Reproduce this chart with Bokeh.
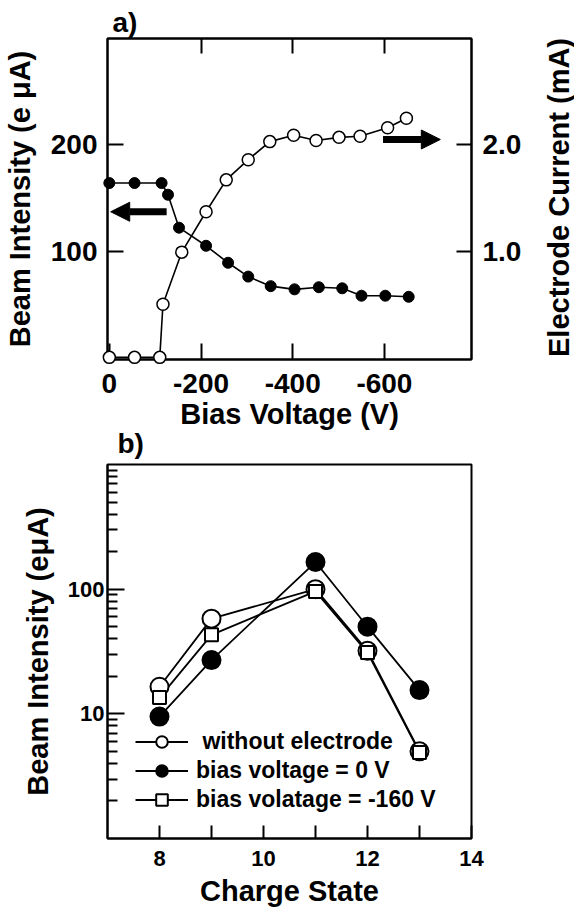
import math
from bokeh.plotting import figure
from bokeh.layouts import column
from bokeh.models import (Range1d, LinearAxis, FixedTicker, Title, Arrow, NormalHead,
                          Legend, LegendItem, PrintfTickFormatter)
from bokeh.core.properties import value
from bokeh.embed import file_html
from bokeh.resources import INLINE

# ---------------- data: panel a ----------------
beam_bias_v = [0, -55, -114, -128, -152, -211, -259, -303, -352, -404, -457, -508, -550, -602, -653]
beam_intensity = [164, 164, 164, 153, 122, 105, 89, 76, 67, 64, 66, 65, 58, 58, 57]
cur_bias_v = [0, -55, -110, -117, -158, -211, -255, -303, -350, -402, -451, -501, -547, -607, -648]
electrode_current = [0.0, 0.0, 0.0, 0.50, 0.99, 1.37, 1.67, 1.86, 2.03, 2.09, 2.04, 2.07, 2.08, 2.16, 2.25]
a_x_ticks = [0, -200, -400, -600]
a_y_ticks = [100, 200]
a_y2_ticks = [1.0, 2.0]

# ---------------- data: panel b ----------------
charge_state = [8, 9, 11, 12, 13]
without_electrode = [16.5, 58, 100, 32, 5.0]
bias_0v = [9.5, 27, 165, 50, 15.5]
bias_m160v = [13.5, 43, 96, 31, 4.9]
b_x_ticks = [8, 10, 12, 14]
b_x_minor = [9, 11, 13]
b_y_ticks = [10, 100]
b_y_minor = [m * d for d in (1, 10, 100) for m in range(2, 10)]

FONT = "Liberation Sans"

# panel a frame geometry (pixels within the figure canvas)
A_W, A_H = 574, 432
A_LEFT, A_RIGHT, A_TOP, A_BOTTOM = 107, 103, 38, 73
A_XR = (4, -790)
A_YR = (-2, 300)


def style_axis(ax, size, tick_in, standoff):
    ax.major_tick_in = tick_in
    ax.major_tick_out = 0
    ax.minor_tick_in = 0
    ax.minor_tick_out = 0
    ax.axis_line_width = 2
    ax.axis_line_color = "black"
    ax.major_tick_line_width = 2
    ax.major_tick_line_color = "black"
    ax.minor_tick_line_width = 2
    ax.minor_tick_line_color = "black"
    ax.major_label_text_font = FONT
    ax.major_label_text_font_style = "bold"
    ax.major_label_text_font_size = size
    ax.major_label_text_color = "black"
    ax.major_label_standoff = standoff


def axis_title(ax, text, standoff, size="29px"):
    ax.axis_label = text
    ax.axis_label_text_font = FONT
    ax.axis_label_text_font_style = "bold"
    ax.axis_label_text_font_size = size
    ax.axis_label_text_color = "black"
    ax.axis_label_standoff = standoff


def panel_title(text, offset, standoff):
    return Title(text=text, align="left", offset=offset, standoff=standoff,
                 text_font=FONT, text_font_style="bold", text_font_size="28px",
                 text_color="black")


def a_px_to_x(px):
    fw = A_W - A_LEFT - A_RIGHT
    return A_XR[0] + (px - A_LEFT) / fw * (A_XR[1] - A_XR[0])


def a_py_to_y(py):
    fh = A_H - A_TOP - A_BOTTOM
    return A_YR[0] + ((A_H - A_BOTTOM) - py) / fh * (A_YR[1] - A_YR[0])


# ================= panel a =================
pa = figure(width=A_W, height=A_H, x_range=Range1d(*A_XR), y_range=Range1d(*A_YR),
            output_backend="svg", toolbar_location=None,
            min_border_left=A_LEFT, min_border_right=A_RIGHT,
            min_border_top=A_TOP, min_border_bottom=A_BOTTOM)
pa.extra_y_ranges = {"cur": Range1d(-0.02, 3.0)}
pa.grid.visible = False
pa.outline_line_color = "black"
pa.outline_line_width = 2

pa.xaxis.ticker = FixedTicker(ticks=a_x_ticks)
pa.xaxis.formatter = PrintfTickFormatter(format="%d")
pa.yaxis.ticker = FixedTicker(ticks=a_y_ticks)
style_axis(pa.xaxis[0], "28px", 16, 14)
style_axis(pa.yaxis[0], "28px", 16, 10)
axis_title(pa.xaxis[0], "Bias Voltage (V)", 2)
axis_title(pa.yaxis[0], "Beam Intensity (e \u03bcA)", 12)

top_a = LinearAxis(ticker=FixedTicker(ticks=a_x_ticks[1:]))
style_axis(top_a, "0px", 15, 0)
top_a.major_label_text_color = None
pa.add_layout(top_a, "above")

right_a = LinearAxis(y_range_name="cur", ticker=FixedTicker(ticks=a_y2_ticks),
                     formatter=PrintfTickFormatter(format="%.1f"))
style_axis(right_a, "28px", 15, 11)
pa.add_layout(right_a, "right")

pa.add_layout(panel_title("a)", 5, 1), "above")

# right-hand axis title, reading bottom to top, placed in the right border
pa.text(x=[a_px_to_x(558)], y=[a_py_to_y(197)], text=["Electrode Current (mA)"],
        angle=math.pi / 2, text_align="center", text_baseline="middle",
        text_font=value(FONT), text_font_style="bold", text_font_size="29px",
        text_color="black", level="overlay")

pa.line(beam_bias_v, beam_intensity, line_color="black", line_width=1.6)
pa.line(cur_bias_v, electrode_current, y_range_name="cur", line_color="black", line_width=1.6)
pa.scatter(beam_bias_v, beam_intensity, marker="circle", size=11,
           fill_color="black", line_color="black", level="overlay")
pa.scatter(cur_bias_v, electrode_current, y_range_name="cur", marker="circle", size=12,
           fill_color="white", line_color="black", line_width=1.5, level="overlay")

pa.add_layout(Arrow(x_start=-125, y_start=137, x_end=-3, y_end=137, line_width=7,
                    line_color="black",
                    end=NormalHead(size=19, fill_color="black", line_color="black")))
pa.add_layout(Arrow(x_start=-597, y_start=205, x_end=-722, y_end=205, line_width=7,
                    line_color="black",
                    end=NormalHead(size=19, fill_color="black", line_color="black")))

# ================= panel b =================
pb = figure(width=574, height=491, x_range=Range1d(7, 14), y_range=Range1d(1, 1000),
            y_axis_type="log", output_backend="svg", toolbar_location=None,
            min_border_left=107, min_border_right=99, min_border_top=44, min_border_bottom=72)
pb.margin = (-13, 0, 0, 0)
pb.border_fill_color = None
pb.grid.visible = False
pb.outline_line_color = "black"
pb.outline_line_width = 2

pb.xaxis.ticker = FixedTicker(ticks=b_x_ticks, minor_ticks=b_x_minor)
style_axis(pb.xaxis[0], "22px", 13, 12)
pb.xaxis.minor_tick_in = 13
axis_title(pb.xaxis[0], "Charge State", 6)

pb.yaxis.ticker = FixedTicker(ticks=b_y_ticks, minor_ticks=b_y_minor)
pb.yaxis.formatter = PrintfTickFormatter(format="%d")
style_axis(pb.yaxis[0], "22px", 17, 3)
pb.yaxis.minor_tick_in = 10
axis_title(pb.yaxis[0], "Beam Intensity (e\u03bcA)", 11)

pb.add_layout(panel_title("b)", 10, 12), "above")

series = [
    (" without electrode", without_electrode, "circle", 18, "white"),
    ("bias voltage = 0 V", bias_0v, "circle", 18, "black"),
    ("bias volatage = -160 V", bias_m160v, "square", 13, "white"),
]
lines = []
for _, vals, _, _, _ in series:
    lines.append(pb.line(charge_state, vals, line_color="black", line_width=1.8))
items = []
for (label, vals, marker, size, fill), ln in zip(series, lines):
    sc = pb.scatter(charge_state, vals, marker=marker, size=size, fill_color=fill,
                    line_color="black", line_width=2)
    items.append(LegendItem(label=label, renderers=[ln, sc]))

legend = Legend(items=items, location=(28, 24), border_line_color=None,
                background_fill_alpha=0, label_text_font=FONT, label_text_font_style="bold",
                label_text_font_size="23px", label_text_color="black",
                glyph_width=53, glyph_height=29, label_height=29, spacing=0,
                padding=0, margin=0, label_standoff=8)
pb.add_layout(legend)

layout = column(pa, pb)
open("out.html", "w").write(file_html(layout, INLINE))
